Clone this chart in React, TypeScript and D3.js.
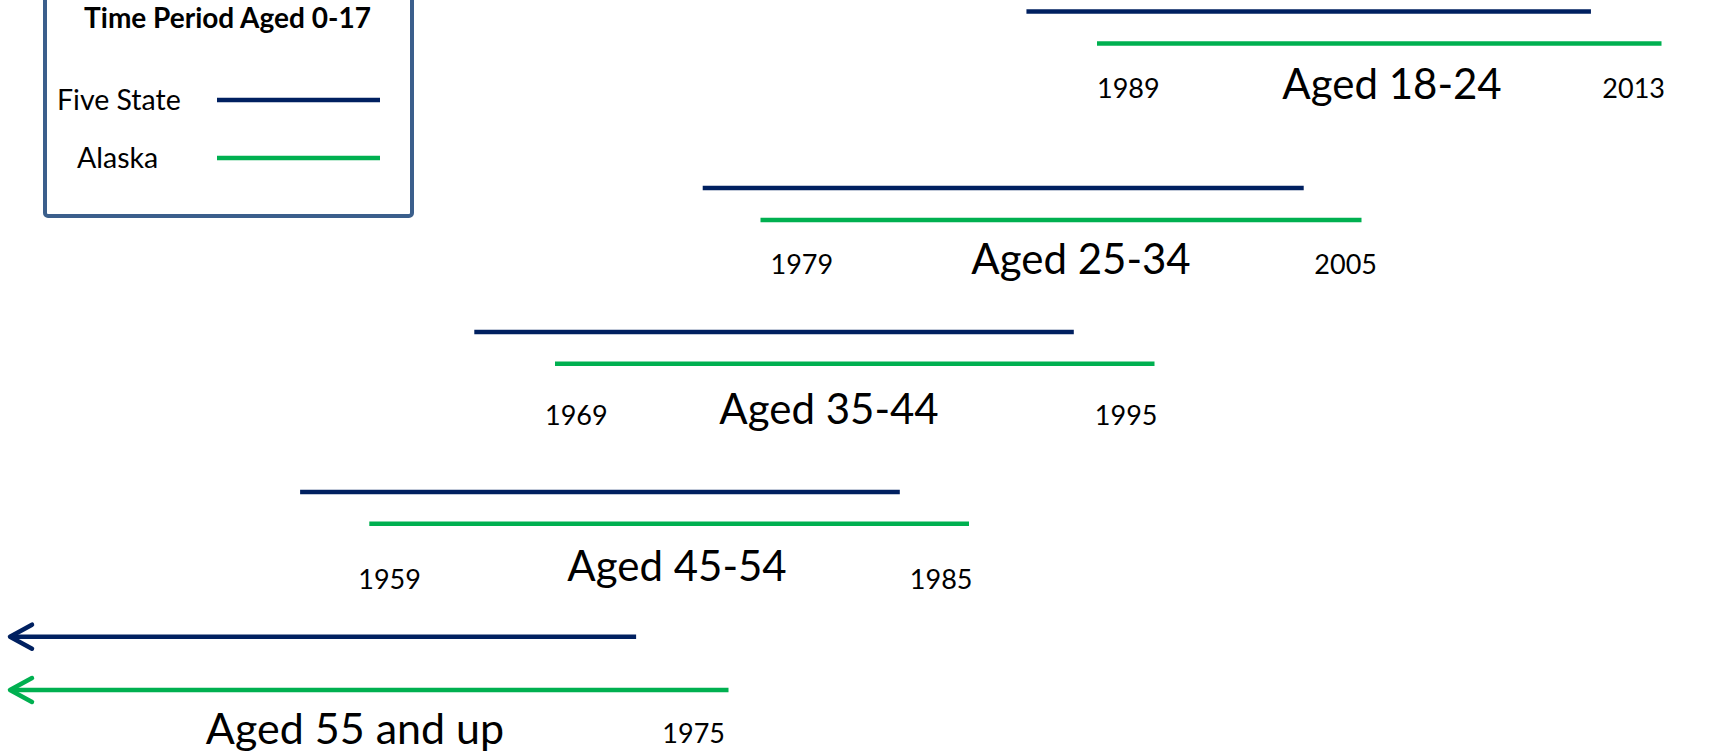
import * as d3 from "d3";

// data (years during which each cohort was aged 0-17)
const groups = ["Aged 18-24", "Aged 25-34", "Aged 35-44", "Aged 45-54", "Aged 55 and up"];
const alaskaStart: (number | null)[] = [1989, 1979, 1969, 1959, null];
const alaskaEnd = [2013, 2005, 1995, 1985, 1975];
const fiveStateStart: (number | null)[] = [1986, 1976.5, 1965.5, 1956, null];
const fiveStateEnd = [2010, 2002.5, 1991.5, 1982, 1971];
const seriesNames = ["Five State", "Alaska"];
const legendTitle = "Time Period Aged 0-17";

// layout
const W = 1723;
const H = 756;
const NAVY = "#002060";
const GREEN = "#00b050";
const BORDER = "#3b5f8c";
const FONT = "Lato, 'Open Sans', sans-serif";
const SW = 4.5;

// each row is drawn on its own stretch of the page (a staircase, not a common time axis)
const rowRange = [
  [1097, 1661.5],
  [760.5, 1361.5],
  [555, 1154.5],
  [369.3, 969],
  [128, 728.5],
];
const navyY = [11.5, 188, 332, 492, 636.7];
const greenY = [43.5, 220, 363.7, 523.7, 690];
const yearY = [98, 274, 425, 589, 743];
const groupY = [99, 274, 424, 581, 744];
const groupX = [1392, 1081, 829, 677, 355];
const startDx = [0, 10, -10, -11, 0];
const endDx = [3.5, 15.5, 3, 3.5, -3.5];
const ARROW_X = 10;
const OPEN_SPAN = 26;

function Arrow({ x1, x2, y, color }: { x1: number; x2: number; y: number; color: string }) {
  return (
    <g stroke={color} strokeWidth={SW} fill="none">
      <line x1={x1 + 2} x2={x2} y1={y} y2={y} />
      <path
        d={`M${x1 + 22},${y - 12} L${x1},${y} L${x1 + 22},${y + 12}`}
        strokeLinecap="round"
        strokeLinejoin="round"
      />
    </g>
  );
}

function Row({ i }: { i: number }) {
  const a0 = alaskaStart[i];
  const a1 = alaskaEnd[i];
  const f0 = fiveStateStart[i];
  const f1 = fiveStateEnd[i];
  const x = d3
    .scaleLinear()
    .domain([a0 ?? a1 - OPEN_SPAN, a1])
    .range(rowRange[i]);

  return (
    <g>
      {f0 == null ? (
        <Arrow x1={ARROW_X} x2={x(f1)} y={navyY[i]} color={NAVY} />
      ) : (
        <line x1={x(f0)} x2={x(f1)} y1={navyY[i]} y2={navyY[i]} stroke={NAVY} strokeWidth={SW} />
      )}
      {a0 == null ? (
        <Arrow x1={ARROW_X} x2={x(a1)} y={greenY[i]} color={GREEN} />
      ) : (
        <line x1={x(a0)} x2={x(a1)} y1={greenY[i]} y2={greenY[i]} stroke={GREEN} strokeWidth={SW} />
      )}
      {a0 != null && (
        <text x={x(a0) + startDx[i]} y={yearY[i]} fontSize={27} textAnchor="start">
          {a0}
        </text>
      )}
      <text x={x(a1) + endDx[i]} y={yearY[i]} fontSize={27} textAnchor="end">
        {a1}
      </text>
      <text x={groupX[i]} y={groupY[i]} fontSize={i === 4 ? 43 : 42} textAnchor="middle">
        {groups[i]}
      </text>
    </g>
  );
}

export default function App() {
  const legendColors = [NAVY, GREEN];
  const legendLabelX = [57, 77];
  const legendY = [100, 158];

  return (
    <svg
      width={W}
      height={H}
      viewBox={`0 0 ${W} ${H}`}
      style={{ position: "absolute", left: 0, top: 0, background: "#fff" }}
      fontFamily={FONT}
      fill="#000"
    >
      <g>
        <rect x={45} y={-10} width={367} height={226} rx={3} fill="#fff" stroke={BORDER} strokeWidth={4} />
        <text x={227.5} y={28} fontSize={28} fontWeight="bold" textAnchor="middle">
          {legendTitle}
        </text>
        {seriesNames.map((name, k) => (
          <g key={name}>
            <text x={legendLabelX[k]} y={legendY[k] + 10} fontSize={28.5}>
              {name}
            </text>
            <line x1={217} x2={380} y1={legendY[k]} y2={legendY[k]} stroke={legendColors[k]} strokeWidth={SW} />
          </g>
        ))}
      </g>
      {groups.map((g, i) => (
        <Row key={g} i={i} />
      ))}
    </svg>
  );
}
